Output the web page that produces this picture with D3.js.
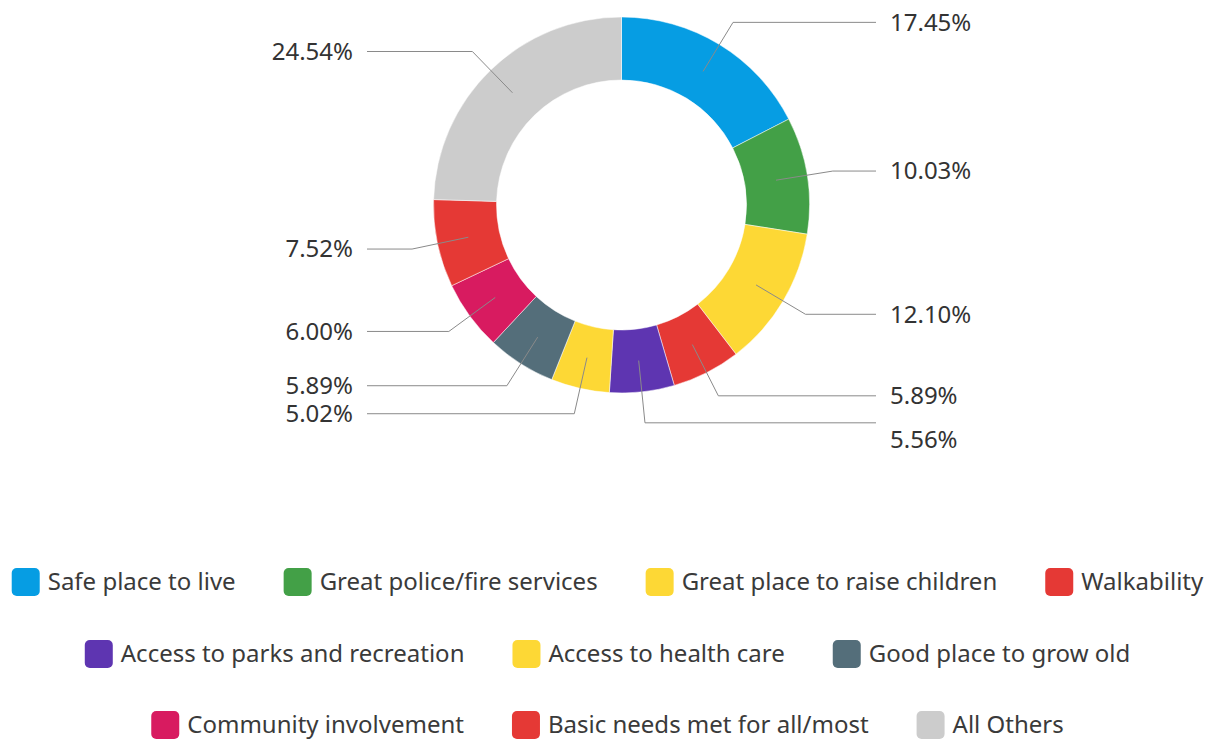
<!DOCTYPE html>
<html><head><meta charset="utf-8">
<script src="https://cdn.jsdelivr.net/npm/d3@7"></script>
<style>body{margin:0;background:#fff}svg{display:block}</style>
</head><body><svg id="c" width="1217" height="743"></svg>
<script>
const categories = ["Safe place to live","Great police/fire services","Great place to raise children","Walkability","Access to parks and recreation","Access to health care","Good place to grow old","Community involvement","Basic needs met for all/most","All Others"];
const values = [17.45,10.03,12.10,5.89,5.56,5.02,5.89,6.00,7.52,24.54];
const colors = ["#069de3","#43a047","#fdd835","#e53935","#5e35b1","#fdd835","#546e7a","#d81b60","#e53935","#cccccc"];

const W=1217, H=743, cx=621.5, cy=205, rOut=188, rIn=125;
const FONT = "'Noto Sans', sans-serif";
const svg = d3.select("#c");
const g = svg.append("g").attr("transform",`translate(${cx},${cy})`);
const data = categories.map((c,i)=>({c, v:values[i], col:colors[i]}));
const pie = d3.pie().sort(null).value(d=>d.v);
const arcs = pie(data);
const arc = d3.arc().innerRadius(rIn).outerRadius(rOut);
g.selectAll("path.s").data(arcs).join("path").attr("class","s")
  .attr("d",arc).attr("fill",d=>d.data.col).attr("stroke","#fff").attr("stroke-width",0.5);

// labels
const rMid=(rIn+rOut)/2, rElbow=214, xLine=254.5, xText=268.5;
const labs = arcs.map(a=>{
  const m=(a.startAngle+a.endAngle)/2;
  const s=Math.sin(m), c=-Math.cos(m);
  return {a, m, x0:rMid*s, y0:rMid*c, x1:rElbow*s, y1:rElbow*c, right:s>=0, yl:rElbow*c, pushed:false, txt:d3.format(".2f")(a.data.v)+"%"};
});
// collision resolution per side: pushed leader lines get their text hung below the line
["r","l"].forEach(side=>{
  const L=labs.filter(d=>(side==="r")===d.right).sort((a,b)=>a.yl-b.yl);
  for(let i=1;i<L.length;i++){ if(L[i].yl-L[i-1].yl<27){ L[i].yl=L[i-1].yl+27; L[i].pushed=true; } }
});
labs.forEach(d=>{ d.ly = d.pushed ? d.yl+17 : d.yl; });
g.selectAll("path.l").data(labs).join("path").attr("class","l")
  .attr("d",d=>{const xe=d.right?xLine:-xLine; const y1=d.pushed? d.yl : d.y1; return `M${d.x0},${d.y0}L${d.x1},${y1}L${xe},${d.yl}`;})
  .attr("fill","none").attr("stroke","#8a8a8a").attr("stroke-width",1);
g.selectAll("text.l").data(labs).join("text").attr("class","l")
  .attr("x",d=>d.right?xText:-xText).attr("y",d=>d.ly).attr("dy","0.35em")
  .attr("text-anchor",d=>d.right?"start":"end")
  .style("font-family",FONT).style("font-size","24px").attr("fill","#333")
  .text(d=>d.txt);

// legend (flow layout, centered)
const lg = svg.append("g");
const fs=24, sw=28, gapIn=8, gapItem=48, maxW=1200, rowY=[582,654,725];
const meas = svg.append("text").style("font-family",FONT).style("font-size",fs+"px");
const items = categories.map((c,i)=>{meas.text(c); return {c, col:colors[i], w:sw+gapIn+meas.node().getComputedTextLength()};});
meas.remove();
const rows=[[]]; let cur=0;
items.forEach(it=>{
  const add = (rows[rows.length-1].length?gapItem:0)+it.w;
  if(cur+add>maxW && rows[rows.length-1].length){rows.push([it]);cur=it.w;}
  else{rows[rows.length-1].push(it);cur+=add;}
});
rows.forEach((row,ri)=>{
  const tot=d3.sum(row,d=>d.w)+gapItem*(row.length-1);
  let x=W/2-tot/2-1;
  const y=rowY[ri];
  row.forEach(it=>{
    lg.append("rect").attr("x",x).attr("y",y-sw/2).attr("width",sw).attr("height",sw).attr("rx",5).attr("fill",it.col);
    lg.append("text").attr("x",x+sw+gapIn).attr("y",y).attr("dy","0.35em")
      .style("font-family",FONT).style("font-size",fs+"px").attr("fill","#3a3a3a").text(it.c);
    x+=it.w+gapItem;
  });
});
</script></body></html>
